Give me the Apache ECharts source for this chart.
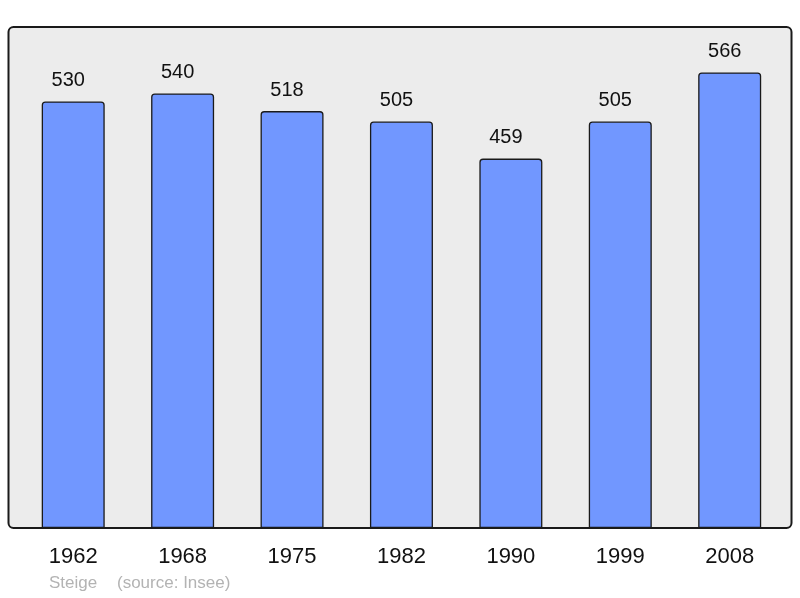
<!DOCTYPE html>
<html>
<head>
<meta charset="utf-8">
<script src="https://cdn.jsdelivr.net/npm/echarts@6/dist/echarts.min.js"></script>
<style>
  html, body { margin: 0; padding: 0; background: #fff; }
  #chart { width: 800px; height: 598px; }
</style>
</head>
<body>
<div id="chart"></div>
<script>
// années du recensement et population
var years = ['1962', '1968', '1975', '1982', '1990', '1999', '2008'];
var population = [530, 540, 518, 505, 459, 505, 566];
var footerName = 'Steige';
var footerSource = '(source: Insee)';

var dom = document.getElementById('chart');
var myChart = echarts.init(dom, null, { renderer: 'canvas' });

var option = {
  animation: false,
  backgroundColor: '#fff',
  graphic: [
    {
      type: 'rect',
      z: -1,
      shape: { x: 8.5, y: 27, width: 783, height: 501, r: 5 },
      style: { fill: '#ececec', stroke: '#1a1a1a', lineWidth: 2 }
    },
    {
      type: 'text',
      left: 49,
      top: 575,
      style: {
        text: footerName,
        fill: '#b3b3b3',
        font: '17px "Liberation Sans", Arial, sans-serif'
      }
    },
    {
      type: 'text',
      left: 117,
      top: 575,
      style: {
        text: footerSource,
        fill: '#b3b3b3',
        font: '17px "Liberation Sans", Arial, sans-serif'
      }
    }
  ],
  grid: { left: 18.5, right: 15.6, top: 29, bottom: 70 },
  xAxis: {
    type: 'category',
    data: years,
    axisLine: { show: false },
    axisTick: { show: false },
    axisLabel: {
      margin: 18,
      color: '#111',
      fontSize: 22,
      fontFamily: '"Liberation Sans", Arial, sans-serif'
    }
  },
  yAxis: {
    type: 'value',
    min: 0,
    max: 620,
    show: false,
    splitLine: { show: false }
  },
  series: [
    {
      type: 'bar',
      data: population,
      barWidth: 63,
      itemStyle: {
        color: '#7197ff',
        borderColor: '#1a1a1a',
        borderWidth: 1.3,
        borderRadius: [3, 3, 0, 0]
      },
      label: {
        show: true,
        position: 'top',
        distance: 11,
        offset: [-5, 0],
        color: '#111',
        fontSize: 20,
        fontFamily: '"Liberation Sans", Arial, sans-serif'
      }
    }
  ]
};

myChart.setOption(option);
window.addEventListener('resize', myChart.resize);
</script>
</body>
</html>
